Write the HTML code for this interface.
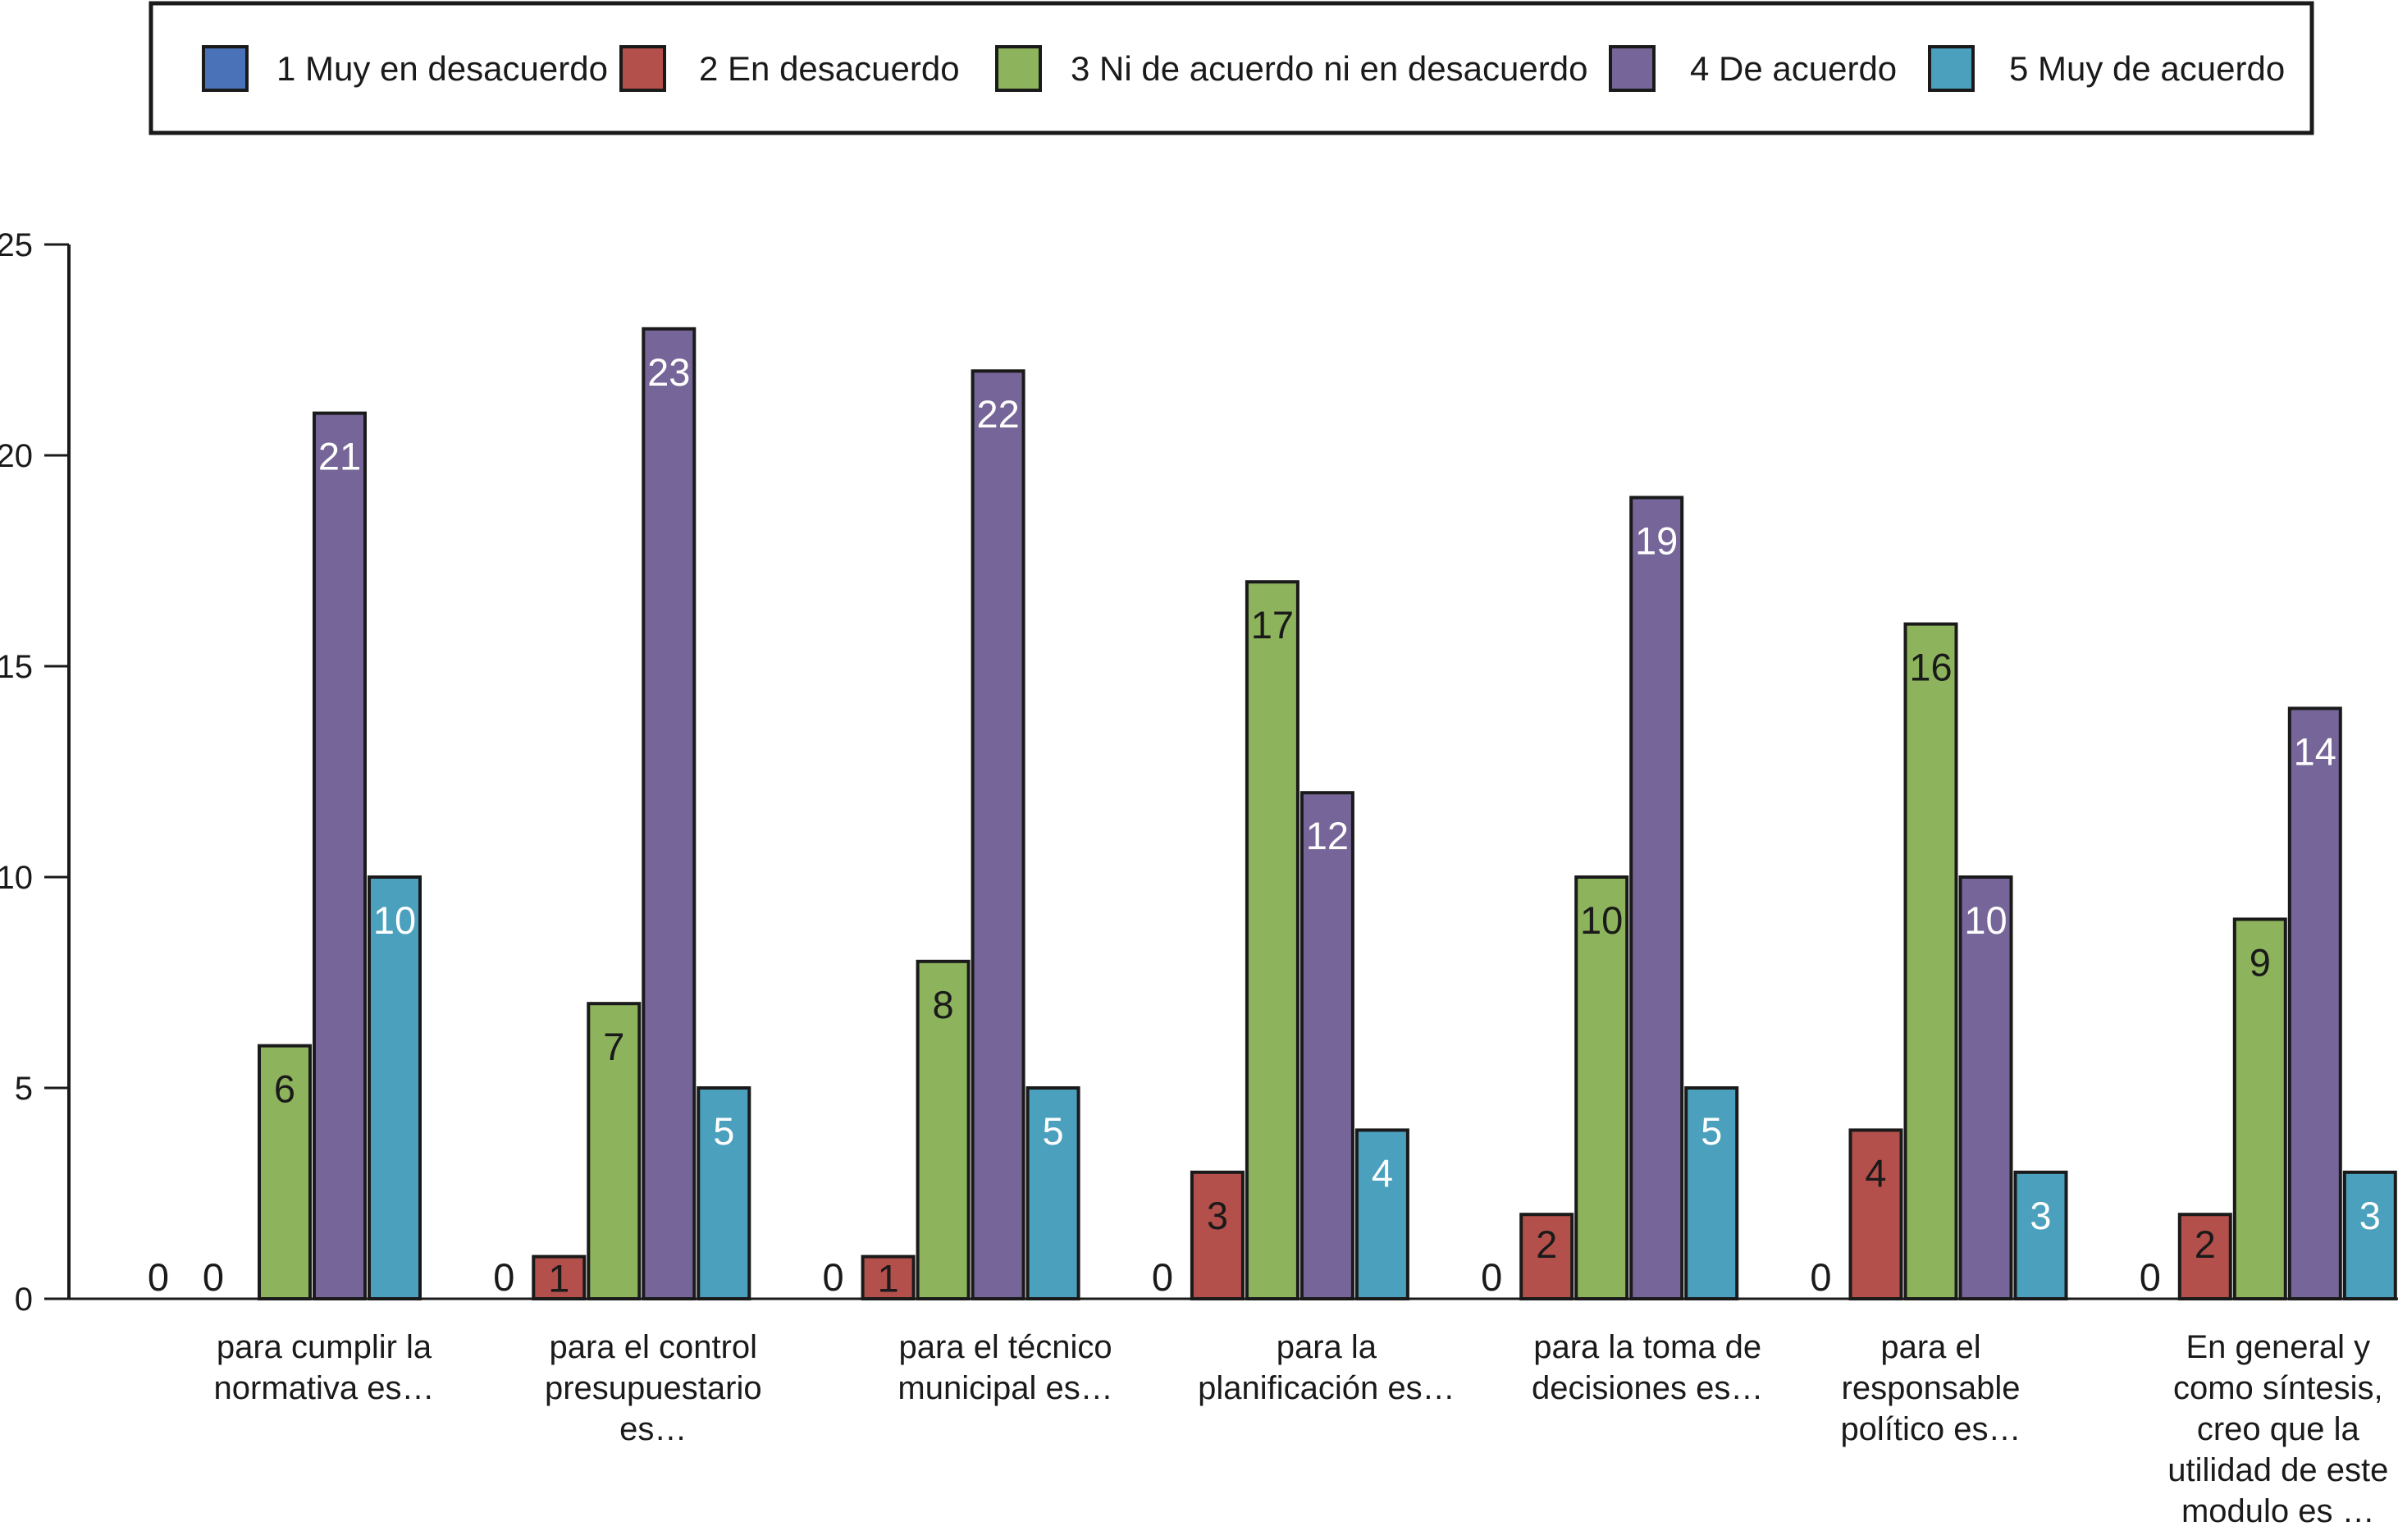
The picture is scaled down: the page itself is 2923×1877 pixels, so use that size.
<!DOCTYPE html>
<html><head><meta charset="utf-8"><style>
html,body{margin:0;padding:0;background:#fff;}
svg{display:block;font-family:"Liberation Sans",Arial,sans-serif;}
</style></head><body>
<svg id="chart" width="2923" height="1877" viewBox="0 0 2923 1877" xmlns="http://www.w3.org/2000/svg">
<rect x="184" y="4" width="2634" height="158" fill="#fff" stroke="#1a1a1a" stroke-width="5"/>
<g id="legend"></g>
<g id="axes"></g>
<g id="bars"></g>
<g id="cats"></g>
</svg>
<script>
const seriesNames = ["1 Muy en desacuerdo","2 En desacuerdo","3 Ni de acuerdo  ni en desacuerdo","4 De acuerdo","5 Muy de acuerdo"];
const seriesColors = ["#4a72b8","#b4504b","#8db35c","#766598","#4aa0bd"];
const labelColors = ["#1a1a1a","#1a1a1a","#1a1a1a","#ffffff","#ffffff"];
const categories = [
 ["para cumplir la","normativa es…"],
 ["para el control","presupuestario","es…"],
 ["para el técnico","municipal es…"],
 ["para la","planificación es…"],
 ["para la toma de","decisiones es…"],
 ["para el","responsable","político es…"],
 ["En general y","como síntesis,","creo que la","utilidad de este","modulo es …"]
];
const s1 = [0,0,0,0,0,0,0];
const s2 = [0,1,1,3,2,4,2];
const s3 = [6,7,8,17,10,16,9];
const s4 = [21,23,22,12,19,10,14];
const s5 = [10,5,5,4,5,3,3];
const series = [s1,s2,s3,s4,s5];
const yTicks = [0,5,10,15,20,25];

const NS="http://www.w3.org/2000/svg";
function mk(tag,attrs,parent,text){const e=document.createElementNS(NS,tag);for(const k in attrs)e.setAttribute(k,attrs[k]);if(text!==undefined)e.textContent=text;parent.appendChild(e);return e;}
const y0=1583, y25=298, axisX=84;
function yScale(v){return y0-(y0-y25)*v/25;}
function groupCenter(i){return 347+i*401.3;}
const barW=62, pitch=67;
function xBar(i,s){return groupCenter(i)+(s-2)*pitch-barW/2;}
const labelNudge=[48,48,76,66,56,0,22];

// legend
const lg=document.getElementById('legend');
const sqX=[248,757,1215,1963,2352], txX=[337,852,1305,2060,2449];
seriesNames.forEach((n,s)=>{
  const r=mk('rect',{x:sqX[s],y:57,width:53,height:53,fill:seriesColors[s],stroke:"#1a1a1a","stroke-width":4},lg);
  
  
  const t=mk('text',{x:txX[s],y:98,"font-size":42,fill:"#1a1a1a"},lg,n);
  
  
  t.setAttribute('xml:space','preserve');
});

// axes
const ax=document.getElementById('axes');
let l=mk('line',{x1:axisX,y1:y25,x2:axisX,y2:y0,stroke:"#1a1a1a","stroke-width":4},ax);

l=mk('line',{x1:axisX,y1:y0,x2:2923,y2:y0,stroke:"#1a1a1a","stroke-width":3},ax);

yTicks.forEach(v=>{
  const tk=mk('line',{x1:54,y1:yScale(v),x2:axisX,y2:yScale(v),stroke:"#1a1a1a","stroke-width":3},ax);
  
  const t=mk('text',{x:40,y:yScale(v)+14,"font-size":40,"text-anchor":"end",fill:"#1a1a1a"},ax,String(v));
  
});

// bars
const bg=document.getElementById('bars');
categories.forEach((c,i)=>{
  series.forEach((arr,s)=>{
    const v=arr[i], x=xBar(i,s);
    if(v>0){
      const top=yScale(v), h=y0-top;
      const r=mk('rect',{x:x,y:top,width:barW,height:h,fill:seriesColors[s],stroke:"#1a1a1a","stroke-width":4},bg);
      
      
      const cy=top+Math.min(52,Math.max(26,h*0.35));
      const t=mk('text',{x:x+barW/2,y:cy+17,"font-size":47,"text-anchor":"middle",fill:labelColors[s]},bg,String(v));
      
    } else {
      const off = i===0 ? -20 : 0;
      const t=mk('text',{x:x+barW/2+off,y:y0-10,"font-size":47,"text-anchor":"middle",fill:"#1a1a1a"},bg,String(v));
      
    }
  });
  const cg=document.getElementById('cats');
  c.forEach((line,k)=>{
    const t=mk('text',{x:groupCenter(i)+labelNudge[i],y:1655+k*50,"font-size":40,"text-anchor":"middle",fill:"#1a1a1a"},cg,line);
    
  });
});
</script>
</body></html>
